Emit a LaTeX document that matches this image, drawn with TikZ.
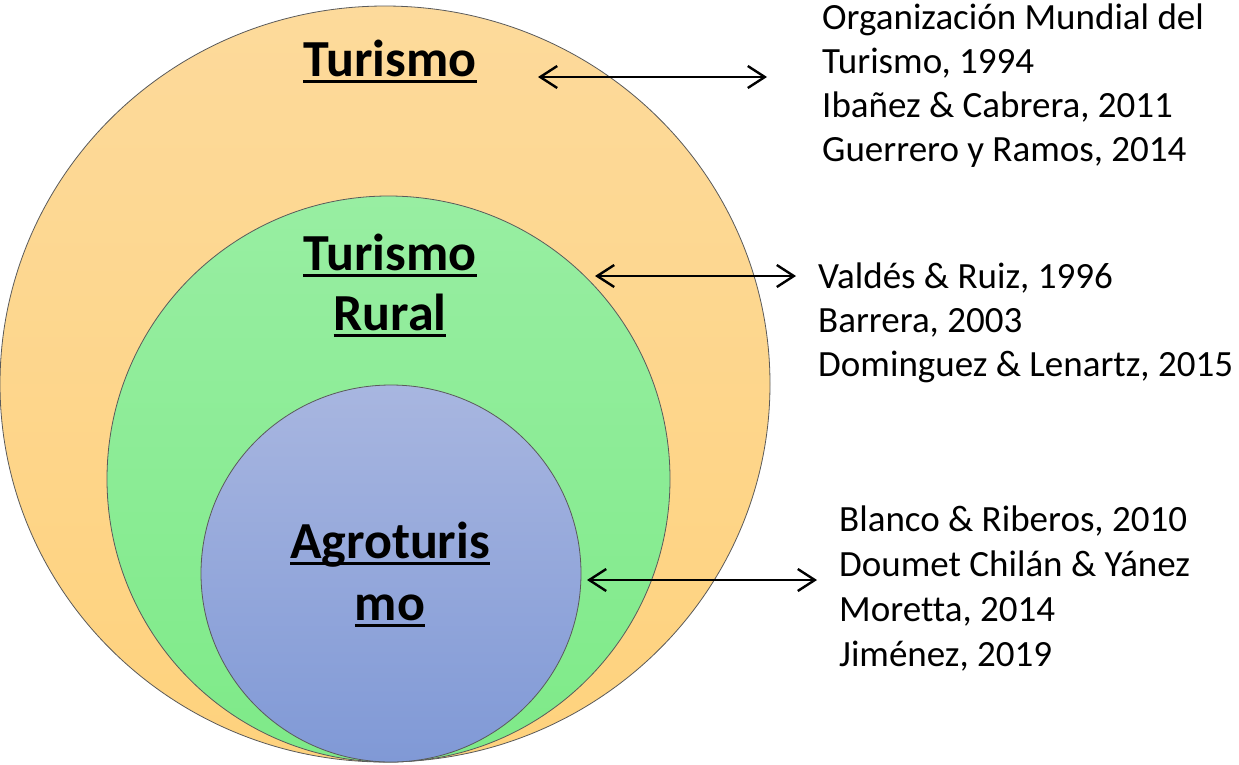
\documentclass[tikz,border=0pt]{standalone}
\usepackage{fontspec}
\setmainfont{Carlito}[Ligatures=NoCommon]
\usetikzlibrary{shapes.geometric,arrows.meta}
\definecolor{orTop}{RGB}{253,218,155}
\definecolor{orBot}{RGB}{254,210,125}
\definecolor{grTop}{RGB}{152,238,162}
\definecolor{grBot}{RGB}{126,234,136}
\definecolor{blTop}{RGB}{168,182,224}
\definecolor{blBot}{RGB}{128,153,214}
\definecolor{rimgray}{RGB}{90,90,90}
\newcommand\ulbox[1]{\setbox0\hbox{#1}\rlap{\rule[-0.135em]{\wd0}{0.06em}}\box0}
\newcommand\stackL[2]{\vtop{\baselineskip=#1\lineskiplimit=-100pt\halign{##\hfil\cr#2\crcr}}}
\newcommand\stackC[2]{\vtop{\baselineskip=#1\lineskiplimit=-100pt\halign{\hfil##\hfil\cr#2\crcr}}}
\tikzset{
  ring/.style={ellipse, inner sep=0pt, draw=rimgray, line width=0.8pt},
  reftext/.style={anchor=base west, inner sep=0pt, font=\fontsize{37pt}{44pt}\selectfont},
  title/.style={anchor=base, inner sep=0pt, font=\fontsize{52pt}{60pt}\selectfont\bfseries},
  biarrow/.style={line width=2.4pt, {Straight Barb[length=17pt,width=22pt]}-{Straight Barb[length=17pt,width=22pt]}}
}
\begin{document}
\begin{tikzpicture}[x=1pt,y=-1pt]
\useasboundingbox (0,0) rectangle (1239,764);
\node[ring, minimum width=770pt, minimum height=756pt, top color=orTop, bottom color=orBot] (tur) at (385,384) {};
\node[ring, minimum width=563pt, minimum height=566pt, top color=grTop, bottom color=grBot] (rur) at (388.5,479) {};
\node[ring, minimum width=380pt, minimum height=377pt, top color=blTop, bottom color=blBot] (agr) at (391,573.5) {};

\node[title] (tTur) at (390,76) {\ulbox{Turismo}};
\node[title] (tRur) at (390,270) {\stackC{60pt}{\ulbox{Turismo}\cr\ulbox{Rural}}};
\node[title] (tAgr) at (390,558) {\stackC{62pt}{\ulbox{Agroturis}\cr\ulbox{mo}}};

\node[reftext] (r1) at (822,29) {\stackL{44pt}{Organización Mundial del\cr Turismo, 1994\cr Ibañez \& Cabrera, 2011\cr Guerrero y Ramos, 2014}};
\node[reftext] (r2) at (818,288) {\stackL{44pt}{Valdés \& Ruiz, 1996\cr Barrera, 2003\cr Dominguez \& Lenartz, 2015}};
\node[reftext] (r3) at (839,531) {\stackL{45pt}{Blanco \& Riberos, 2010\cr Doumet Chilán \& Yánez\cr Moretta, 2014\cr Jiménez, 2019}};

\coordinate (a1l) at (538,77);
\coordinate (a1r) at (767,77);
\coordinate (a2l) at (595,276);
\coordinate (a2r) at (796,276);
\coordinate (a3l) at (587,580);
\coordinate (a3r) at (817,580);
\draw[biarrow] (a1l) -- (a1r);
\draw[biarrow] (a2l) -- (a2r);
\draw[biarrow] (a3l) -- (a3r);
\end{tikzpicture}
\end{document}
